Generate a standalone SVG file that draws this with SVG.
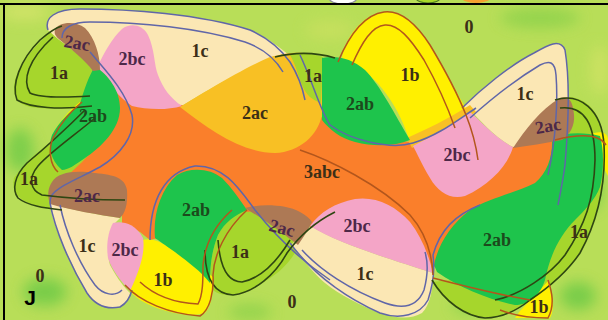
<svg xmlns="http://www.w3.org/2000/svg" width="608" height="320" viewBox="0 0 608 320">
<defs>
<filter id="blur" x="-50%" y="-50%" width="200%" height="200%"><feGaussianBlur stdDeviation="7"/></filter>
<style>
.lime{fill:#a6d62c}
.cream{fill:#fbe7b4}
.yel{fill:#fff000}
.gold{fill:#f8c024}
.org{fill:#fa7f2b}
.pink{fill:#f4a5c7}
.grn{fill:#1ec44c}
.brn{fill:#ad7955}
.oa{fill:none;stroke:#2e4612;stroke-width:1.6}
.ob{fill:none;stroke:#b3561c;stroke-width:1.5}
.oc{fill:none;stroke:#6066a8;stroke-width:1.5}
text{font-family:"Liberation Serif","DejaVu Serif",serif;font-weight:bold;font-size:18px;fill:#3c2f17;text-anchor:middle}
.tg{fill:#1c4a1c}
.tp{fill:#4d2848}
</style>
</defs>
<g id="background">
<rect width="608" height="320" fill="#b8de58"/>
<g filter="url(#blur)" opacity="0.85">
<ellipse cx="20" cy="150" rx="14" ry="22" fill="#74cc48"/>
<ellipse cx="45" cy="292" rx="22" ry="14" fill="#6fca46"/>
<ellipse cx="540" cy="18" rx="40" ry="10" fill="#8ed24c"/>
<ellipse cx="590" cy="190" rx="12" ry="20" fill="#74cc48"/>
<ellipse cx="578" cy="296" rx="18" ry="14" fill="#6fca46"/>
<ellipse cx="470" cy="306" rx="18" ry="8" fill="#8ed24c"/>
<ellipse cx="250" cy="312" rx="22" ry="8" fill="#8ed24c"/>
<ellipse cx="25" cy="12" rx="25" ry="8" fill="#d6e46c"/>
<ellipse cx="600" cy="70" rx="10" ry="25" fill="#cfe264"/>
<ellipse cx="330" cy="30" rx="25" ry="10" fill="#c8e05e"/>
</g>
<ellipse cx="343" cy="-2" rx="14" ry="6" fill="#ffffff" stroke="#8a8a9a" stroke-width="1.2"/>
<ellipse cx="428" cy="-2" rx="12" ry="5" fill="#a8d82a" stroke="#4a7a20" stroke-width="1.2"/>
<ellipse cx="476" cy="-3" rx="15" ry="6" fill="#f5a030"/>
<line x1="0" y1="4" x2="608" y2="4" stroke="#000" stroke-width="2"/>
<line x1="4" y1="4" x2="4" y2="320" stroke="#000" stroke-width="2"/>
</g>
<g id="regions">
<path id="lime-left" class="lime" d="M53,30 C40,40 22,60 15,80 C12,95 17,104 30,107 C45,109 70,109 87,107 L80,113 C70,125 60,135 50,143 C40,150 27,160 14,178 C11,190 17,199 33,205 C42,208 50,209 56,210 L115,205 L115,60 L75,25 Z"/>
<path id="lime-right" class="lime" d="M560,97 C585,94 600,110 604,140 C606,180 598,220 580,253 C565,275 545,290 530,300 C515,312 500,318 485,318 C465,316 445,302 432,282 L540,270 L552,140 Z"/>
<path id="lime-bottom" class="lime" d="M247,208 C265,210 285,225 300,243 C295,255 285,268 273,276 C260,285 245,295 230,295 C220,295 212,292 210,285 C210,265 212,250 218,235 C225,222 235,213 247,208 Z"/>
<path id="cream-top" class="cream" d="M48,30 C44,18 55,9 80,9 C130,9 200,14 250,30 C268,38 280,48 290,56 L275,58 C240,70 200,95 180,107 C150,100 120,80 98,68 C80,55 60,42 48,30 Z"/>
<path id="cream-right" class="cream" d="M462,108 C480,90 510,65 534,53 C548,45 560,38 565,50 C570,80 568,120 565,150 L513,147 C495,138 480,120 470,110 Z"/>
<path id="cream-bl" class="cream" d="M50,203 C70,210 100,215 120,218 L113,225 C108,240 107,255 110,265 C118,280 125,288 130,293 C128,302 122,308 110,308 C100,308 90,298 85,290 C75,270 62,245 55,225 C52,215 50,208 50,203 Z"/>
<path id="cream-bc" class="cream" d="M296,240 L311,226 C340,245 400,262 433,273 C433,290 430,305 422,313 C410,320 395,318 380,313 C360,305 340,295 325,283 C310,270 300,255 291,245 Z"/>
<path id="yellow-top" class="yel" d="M342,58 C345,40 360,15 384,12 C400,10 415,22 430,45 C445,70 458,95 468,112 L410,142 C400,110 380,75 345,60 Z"/>
<path id="yellow-bl" class="yel" d="M143,240 C150,238 160,240 175,252 C190,262 205,270 213,277 C214,290 212,305 205,313 C190,318 160,312 140,300 C135,296 131,293 130,290 C138,275 142,258 143,240 Z"/>
<path id="yellow-br" class="yel" d="M515,318 L520,311 C530,300 540,290 548,281 C553,295 555,310 550,318 Z"/>
<path id="yellow-slim" class="yel" d="M80,102 C72,108 62,118 55,130 L59,131 C66,122 75,112 83,105 Z"/>
<path id="yellow-right" class="yel" d="M588,135 C600,130 608,132 608,140 L608,176 C602,165 596,150 588,135 Z"/>
<path id="orange-center" class="org" d="M98,68 C108,80 125,100 150,103 L182,105 C210,120 240,143 275,146 C298,146 314,132 319,115 C335,130 375,140 413,142 L440,140 L513,147 C535,143 550,140 562,138 C565,165 555,190 535,195 C495,205 455,225 440,265 L431,268 C420,240 400,212 370,207 C345,207 325,215 312,228 C295,215 265,210 247,212 C235,195 215,178 190,178 C168,180 160,205 158,238 L150,240 L140,232 L122,224 L122,212 C125,195 124,186 118,182 C100,178 80,176 67,176 C85,160 112,135 112,108 C112,90 105,78 98,68 Z"/>
<path id="gold-middle" class="gold" d="M180,107 C200,95 240,70 270,57 C285,53 295,52 304,53 L322,60 L322,115 C318,135 300,152 275,153 C240,152 210,130 180,107 Z"/>
<path id="gold-strip" class="gold" d="M407,138 C425,130 450,118 470,105 L476,112 C455,125 430,140 412,148 Z"/>
<path id="lime-top" class="lime" d="M290,55 C300,52 312,53 323,57 L321,103 C312,100 306,95 302,85 C298,75 295,63 290,55 Z"/>
<path id="pink-top" class="pink" d="M98,66 C103,55 112,38 122,29 C130,23 142,24 148,35 C155,50 154,65 158,75 C163,88 170,98 182,106 C165,111 145,109 132,106 C120,98 108,84 98,68 Z"/>
<path id="pink-right" class="pink" d="M413,146 C435,135 455,123 470,112 C480,120 495,138 513,147 C508,165 490,185 465,196 C450,200 438,192 430,178 C422,165 418,155 413,146 Z"/>
<path id="pink-bl" class="pink" d="M113,223 C122,221 135,223 143,238 C145,250 142,265 130,291 C120,280 112,270 108,258 C106,245 108,232 113,223 Z"/>
<path id="pink-bc" class="pink" d="M310,226 C320,212 335,203 355,199 C375,196 395,205 410,222 C420,235 428,252 433,273 C400,262 340,245 310,226 Z"/>
<path id="green-left" class="grn" d="M95,66 C108,75 120,90 120,108 C120,130 100,148 85,158 C75,165 68,170 62,170 C50,160 48,145 52,135 C60,120 70,112 80,104 C84,90 88,78 95,66 Z"/>
<path id="green-top" class="grn" d="M322,58 C335,55 352,58 365,70 C380,85 395,115 410,140 C395,146 375,147 355,142 C340,138 330,130 322,120 Z"/>
<path id="green-bl" class="grn" d="M155,238 C153,215 160,190 177,175 C190,167 210,168 222,178 C232,188 240,200 247,210 C235,215 225,222 218,235 C212,250 210,265 210,283 C200,270 185,260 175,252 C165,245 158,240 155,238 Z"/>
<path id="green-br" class="grn" d="M434,265 C438,245 450,225 470,210 C490,198 515,193 535,183 C548,172 553,155 552,138 C565,132 585,132 600,136 C604,150 604,170 600,187 C595,200 585,210 575,220 C560,235 550,255 545,280 C540,295 530,305 515,305 C490,300 460,288 437,272 Z"/>
<path id="brown-tl" class="brn" d="M55,30 C58,22 75,20 85,28 C95,38 100,55 100,70 L93,71 C85,60 70,48 60,40 C55,36 54,33 55,30 Z"/>
<path id="brown-right" class="brn" d="M513,148 C525,130 540,110 560,98 C568,95 573,100 574,115 C575,125 570,135 562,140 C545,143 528,146 513,148 Z"/>
<path id="brown-left" class="brn" d="M52,182 C58,172 75,170 95,173 C115,175 125,178 127,190 C128,205 125,213 120,218 C100,215 70,210 50,204 C47,195 48,188 52,182 Z"/>
<path id="brown-bc" class="brn" d="M245,208 C260,204 285,204 300,212 C306,215 310,219 312,222 C308,230 303,238 298,245 C285,235 265,220 245,208 Z"/>
</g>
<g id="outlines">
<path class="oc" d="M48,30 C44,18 55,9 80,9 C130,9 200,14 250,30 C268,38 280,48 290,62 C298,75 303,90 305,100"/>
<path class="oc" d="M62,38 C62,28 72,22 90,22 C140,22 200,28 245,42 C262,48 275,58 283,72"/>
<path class="oc" d="M90,52 C105,70 125,90 132,115 C136,135 120,155 100,167 C80,178 60,185 52,195 C50,198 50,200 50,203 C55,230 70,265 87,293 C95,305 105,310 120,307 C127,303 130,298 132,290"/>
<path class="oc" d="M60,205 C65,230 78,262 95,285 C103,295 115,297 122,290"/>
<path class="oc" d="M462,108 C480,90 510,65 534,53 C548,45 560,38 565,50 C570,80 568,130 565,165 C563,180 560,195 558,205"/>
<path class="oc" d="M470,118 C490,100 515,80 540,65 C550,60 555,62 556,75 C558,100 556,140 548,175"/>
<path class="oc" d="M290,243 C310,270 340,295 380,313 C400,320 420,315 428,300 C433,285 435,270 433,255 C440,230 455,215 480,205"/>
<path class="oc" d="M302,250 C320,270 350,290 385,303 C405,310 418,305 424,290 C428,275 428,262 425,252"/>
<path class="oc" d="M300,55 C312,80 320,110 330,125 C350,140 390,150 413,143 C440,135 460,118 476,108"/>
<path class="oc" d="M150,240 C150,200 165,172 195,166 C225,165 240,190 255,210 C275,235 300,260 330,280"/>
<path class="oa" d="M92,106 C60,110 30,108 17,100 C11,85 20,60 40,40 C48,33 55,28 62,26"/>
<path class="oa" d="M90,96 C60,98 40,98 30,93 C22,80 28,60 53,37"/>
<path class="oa" d="M85,110 C70,125 45,148 27,163 C14,176 12,190 18,198 C28,206 45,208 62,210"/>
<path class="oa" d="M95,118 C75,135 50,152 38,166 C28,178 30,190 42,195 C65,198 95,200 125,200"/>
<path class="oa" d="M205,250 C205,280 215,294 233,295 C255,292 275,275 287,253 C300,235 315,222 335,212"/>
<path class="oa" d="M218,240 C220,268 228,282 242,282 C262,278 278,260 290,240"/>
<path class="oa" d="M555,100 C580,92 602,110 604,145 C606,185 598,220 580,253 C565,275 545,290 530,300 C515,312 500,318 485,318 C465,316 445,302 432,280"/>
<path class="oa" d="M560,108 C585,105 595,125 595,160 C594,200 585,225 565,255 C550,275 520,295 495,300"/>
<path class="oa" d="M275,57 C295,52 315,52 335,58"/>
<path class="ob" d="M338,62 C348,38 362,15 384,12 C400,10 415,22 430,45 C445,70 458,95 466,115 C472,130 476,145 478,160"/>
<path class="ob" d="M352,65 C362,42 372,26 385,25 C398,24 410,38 424,60 C438,85 448,108 455,128"/>
<path class="ob" d="M125,285 C140,302 170,314 200,316 C210,310 214,292 213,275 C214,255 225,230 247,210"/>
<path class="ob" d="M140,282 C155,296 175,303 198,304 C203,295 203,280 203,265 C205,245 215,225 232,210"/>
<path class="ob" d="M500,310 C515,316 535,318 548,318 C555,305 552,292 548,280"/>
<path class="ob" d="M555,140 C575,135 598,132 606,145"/>
<path class="ob" d="M82,102 C70,112 60,124 53,138 C48,150 50,165 58,172"/>
<path class="ob" d="M433,278 C460,285 500,295 530,300"/>
<path class="ob" d="M300,150 C330,160 380,185 410,215 C425,232 432,252 433,275"/>
</g>
<g id="labels">
<text x="77" y="49" class="tp" transform="rotate(10 77 43)">2ac</text>
<text x="59" y="79">1a</text>
<text x="132" y="65" class="tp">2bc</text>
<text x="200" y="57">1c</text>
<text x="93" y="122" class="tg">2ab</text>
<text x="255" y="119">2ac</text>
<text x="313" y="82">1a</text>
<text x="360" y="110" class="tg">2ab</text>
<text x="410" y="81">1b</text>
<text x="469" y="33">0</text>
<text x="525" y="100">1c</text>
<text x="548" y="132" class="tp" transform="rotate(-10 548 126)">2ac</text>
<text x="457" y="161" class="tp">2bc</text>
<text x="322" y="178">3abc</text>
<text x="29" y="185">1a</text>
<text x="87" y="202" class="tp">2ac</text>
<text x="87" y="252">1c</text>
<text x="125" y="256" class="tp">2bc</text>
<text x="196" y="216" class="tg">2ab</text>
<text x="240" y="258">1a</text>
<text x="282" y="234" class="tp" transform="rotate(15 282 228)">2ac</text>
<text x="163" y="286">1b</text>
<text x="40" y="282">0</text>
<text x="292" y="308">0</text>
<text x="357" y="232" class="tp">2bc</text>
<text x="365" y="280">1c</text>
<text x="497" y="246" class="tg">2ab</text>
<text x="579" y="238">1a</text>
<text x="539" y="313">1b</text>
<text x="30" y="305" style="font-family:'Liberation Sans','DejaVu Sans',sans-serif;font-size:21px;fill:#000">J</text>
</g>
</svg>
